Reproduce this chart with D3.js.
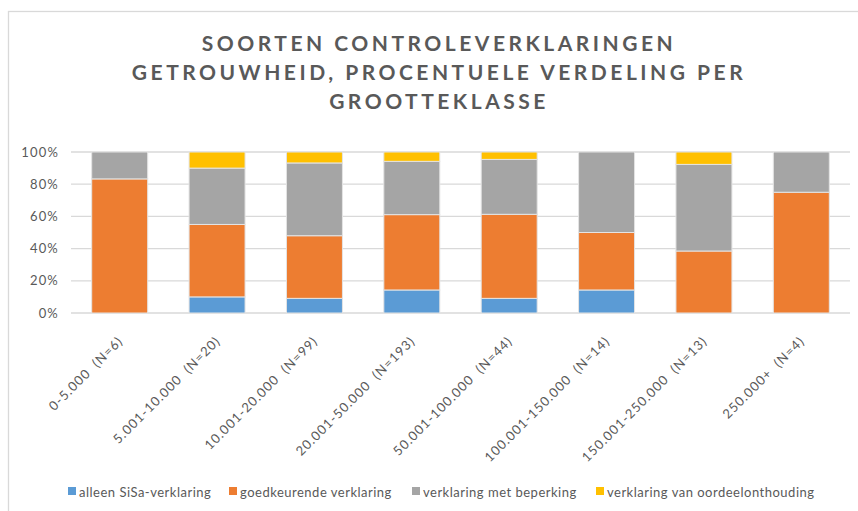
<!DOCTYPE html>
<html>
<head>
<meta charset="utf-8">
<script src="https://cdn.jsdelivr.net/npm/d3@7"></script>
<style>
  body { margin: 0; background: #fff; }
  svg { display: block; }
</style>
</head>
<body>
<div class="chart"></div>
<script>
var svgWidth = 858;
var svgHeight = 511;

// chart data (percentages per size class)
var categories = ["0-5.000  (N=6)", "5.001-10.000  (N=20)", "10.001-20.000  (N=99)",
  "20.001-50.000  (N=193)", "50.001-100.000  (N=44)", "100.001-150.000  (N=14)",
  "150.001-250.000  (N=13)", "250.000+  (N=4)"];
var seriesNames = ["alleen SiSa-verklaring", "goedkeurende verklaring",
  "verklaring met beperking", "verklaring van oordeelonthouding"];
var sisa = [0, 10, 9.1, 14.3, 9.1, 14.3, 0, 0];
var goedkeurend = [83.3, 45, 38.9, 46.8, 52.2, 35.7, 38.5, 75];
var beperking = [16.7, 35, 45.2, 33.1, 34.1, 50, 53.8, 25];
var onthouding = [0, 10, 6.8, 5.8, 4.6, 0, 7.7, 0];
var yTicks = [0, 20, 40, 60, 80, 100];
var titleLines = ["SOORTEN CONTROLEVERKLARINGEN",
  "GETROUWHEID, PROCENTUELE VERDELING PER", "GROOTTEKLASSE"];

var colors = ["#5b9bd5", "#ed7d31", "#a5a5a5", "#ffc000"];
var textColor = "#595959";
var font = "Lato, 'Open Sans', sans-serif";

var margin = { top: 152, right: 8, bottom: 198, left: 71 };
var width = svgWidth - margin.left - margin.right;
var height = svgHeight - margin.top - margin.bottom;

var svg = d3.select(".chart")
  .append("svg")
  .attr("width", svgWidth)
  .attr("height", svgHeight)
  .style("font-family", font);

// chart frame
svg.append("rect")
  .attr("x", 8.5)
  .attr("y", 11.5)
  .attr("width", 900)
  .attr("height", 600)
  .attr("fill", "#fff")
  .attr("stroke", "#d9d9d9")
  .attr("stroke-width", 1.3);

// title
svg.append("g").selectAll("text")
  .data(titleLines)
  .enter()
  .append("text")
  .attr("x", 439)
  .attr("y", (d, i) => 51 + i * 29)
  .attr("text-anchor", "middle")
  .attr("font-size", "21px")
  .attr("font-weight", "bold")
  .attr("letter-spacing", "3.5px")
  .attr("fill", textColor)
  .text(d => d);

var chartGroup = svg.append("g")
  .attr("transform", `translate(${margin.left}, ${margin.top})`);

var x = d3.scaleBand()
  .domain(categories)
  .range([0, width])
  .paddingInner(0.425)
  .paddingOuter(0.2125);

var y = d3.scaleLinear()
  .domain([0, 100])
  .range([height, 0]);

// gridlines
chartGroup.append("g")
  .selectAll("line")
  .data(yTicks)
  .enter()
  .append("line")
  .attr("x1", 0)
  .attr("x2", width)
  .attr("y1", d => y(d))
  .attr("y2", d => y(d))
  .attr("stroke", "#d9d9d9")
  .attr("stroke-width", 1.3);

// y axis
var leftAxis = d3.axisLeft(y)
  .tickValues(yTicks)
  .tickSize(0)
  .tickPadding(12)
  .tickFormat(d => d + "%");

var yAxis = chartGroup.append("g").call(leftAxis);
yAxis.select(".domain").remove();
yAxis.selectAll("text")
  .attr("font-size", "13px")
  .attr("font-family", font)
  .attr("letter-spacing", "1.2px")
  .attr("fill", textColor);

// stacked bars
var rows = categories.map((c, i) => ({
  cat: c,
  v0: sisa[i], v1: goedkeurend[i], v2: beperking[i], v3: onthouding[i]
}));
var stack = d3.stack().keys(["v0", "v1", "v2", "v3"]);
var layers = stack(rows);

chartGroup.append("g")
  .selectAll("g")
  .data(layers)
  .enter()
  .append("g")
  .attr("fill", (d, i) => colors[i])
  .selectAll("rect")
  .data(d => d.filter(p => p[1] - p[0] > 0))
  .enter()
  .append("rect")
  .attr("x", d => x(d.data.cat))
  .attr("width", x.bandwidth())
  .attr("y", d => y(d[1]))
  .attr("height", d => y(d[0]) - y(d[1]))
  .attr("stroke", "#e4e4e4")
  .attr("stroke-width", 1);

// x labels, rotated
chartGroup.append("g")
  .selectAll("text")
  .data(categories)
  .enter()
  .append("text")
  .attr("transform", d => `translate(${x(d) + x.bandwidth() / 2 + 4}, ${height + 29}) rotate(-45)`)
  .attr("text-anchor", "end")
  .attr("font-size", "13px")
  .attr("letter-spacing", "1px")
  .attr("fill", textColor)
  .attr("xml:space", "preserve")
  .style("white-space", "pre")
  .text(d => d);

// legend
var legendX = [68, 229, 412, 596];
var legend = svg.append("g")
  .selectAll("g")
  .data(seriesNames)
  .enter()
  .append("g")
  .attr("transform", (d, i) => `translate(${legendX[i]}, 487)`);

legend.append("rect")
  .attr("width", 8)
  .attr("height", 8)
  .attr("fill", (d, i) => colors[i]);

legend.append("text")
  .attr("x", 11)
  .attr("y", 9.5)
  .attr("font-size", "13px")
  .attr("letter-spacing", "0.5px")
  .attr("fill", textColor)
  .text(d => d);
</script>
</body>
</html>
